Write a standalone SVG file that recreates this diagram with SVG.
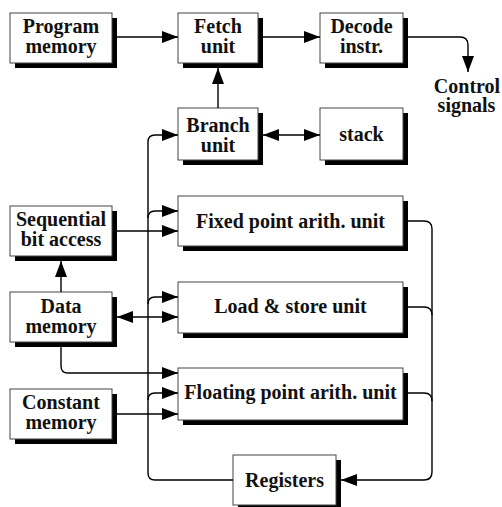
<svg xmlns="http://www.w3.org/2000/svg" width="502" height="507" viewBox="0 0 502 507">
<style>
.sh{fill:#000}
.bx{fill:#fff;stroke:#444;stroke-width:1}
text{font-family:"Liberation Serif","Times New Roman",serif;font-weight:bold;font-size:20px;text-anchor:middle;fill:#111}
.ln{fill:none;stroke:#000;stroke-width:1.4}
.a{marker-end:url(#ah)}
.b{marker-start:url(#ah);marker-end:url(#ah)}
.s{marker-start:url(#ah)}
</style>
<defs>
<marker id="ah" markerUnits="userSpaceOnUse" markerWidth="16" markerHeight="12" refX="16" refY="6" orient="auto-start-reverse">
<path d="M0,0 L16,6 L0,12 z" fill="#000"/>
</marker>
</defs>
<rect width="502" height="507" fill="#fff"/>
<g id="program-memory"><rect class="sh" x="15" y="18" width="102" height="50"/><rect class="bx" x="10" y="13" width="102" height="50"/><text x="61" y="33">Program</text><text x="61" y="53">memory</text></g>
<g id="fetch-unit"><rect class="sh" x="183" y="18" width="80" height="50"/><rect class="bx" x="178" y="13" width="80" height="50"/><text x="218" y="33">Fetch</text><text x="218" y="53">unit</text></g>
<g id="decode-instr"><rect class="sh" x="325" y="18" width="83" height="50"/><rect class="bx" x="320" y="13" width="83" height="50"/><text x="361.5" y="33">Decode</text><text x="361.5" y="53">instr.</text></g>
<g id="control-signals"><text x="467" y="93">Control</text><text x="466.5" y="112">signals</text></g>
<g id="branch-unit"><rect class="sh" x="183" y="113" width="80" height="52"/><rect class="bx" x="178" y="108" width="80" height="52"/><text x="218" y="132">Branch</text><text x="218" y="152">unit</text></g>
<g id="stack"><rect class="sh" x="325" y="113" width="83" height="52"/><rect class="bx" x="320" y="108" width="83" height="52"/><text x="361.5" y="141">stack</text></g>
<g id="sequential-bit-access"><rect class="sh" x="15" y="211" width="102" height="50"/><rect class="bx" x="10" y="206" width="102" height="50"/><text x="61" y="226">Sequential</text><text x="61" y="246">bit access</text></g>
<g id="fixed-point"><rect class="sh" x="183" y="201" width="225" height="50"/><rect class="bx" x="178" y="196" width="225" height="50"/><text x="290.5" y="228">Fixed point arith. unit</text></g>
<g id="data-memory"><rect class="sh" x="15" y="297" width="102" height="50"/><rect class="bx" x="10" y="292" width="102" height="50"/><text x="61" y="313">Data</text><text x="61" y="333">memory</text></g>
<g id="load-store"><rect class="sh" x="183" y="287" width="225" height="51"/><rect class="bx" x="178" y="282" width="225" height="51"/><text x="290.5" y="313">Load &amp; store unit</text></g>
<g id="floating-point"><rect class="sh" x="183" y="373" width="225" height="52"/><rect class="bx" x="178" y="368" width="225" height="52"/><text x="290.5" y="399">Floating point arith. unit</text></g>
<g id="constant-memory"><rect class="sh" x="15" y="394" width="102" height="50"/><rect class="bx" x="10" y="389" width="102" height="50"/><text x="61" y="409">Constant</text><text x="61" y="429">memory</text></g>
<g id="registers"><rect class="sh" x="238" y="460" width="103" height="50"/><rect class="bx" x="233" y="455" width="103" height="50"/><text x="284.5" y="487">Registers</text></g>
<g id="connectors">
<path class="ln a" d="M117,37 H178"/>
<path class="ln a" d="M263,37 H320"/>
<path class="ln a" d="M408,37 H460 Q468,37 468,45 V72"/>
<path class="ln a" d="M218,108 V68"/>
<path class="ln b" d="M263,135 H320"/>
<path class="ln s" d="M178,135 H155 Q148,135 148,142 V473 Q148,480 155,480 H233"/>
<path class="ln a" d="M148,218 Q148,211 155,211 H178"/>
<path class="ln a" d="M148,304 Q148,297 155,297 H178"/>
<path class="ln a" d="M148,400 Q148,393 155,393 H178"/>
<path class="ln a" d="M117,231 H178"/>
<path class="ln a" d="M61,292 V261"/>
<path class="ln b" d="M117,317 H178"/>
<path class="ln a" d="M61,347 V366 Q61,373 68,373 H178"/>
<path class="ln a" d="M117,414 H178"/>
<path class="ln a" d="M408,221 H424 Q432,221 432,229 V472 Q432,480 424,480 H341"/>
<path class="ln" d="M408,307 H424 Q432,307 432,315"/>
<path class="ln" d="M408,393 H424 Q432,393 432,401"/>
</g>
</svg>
